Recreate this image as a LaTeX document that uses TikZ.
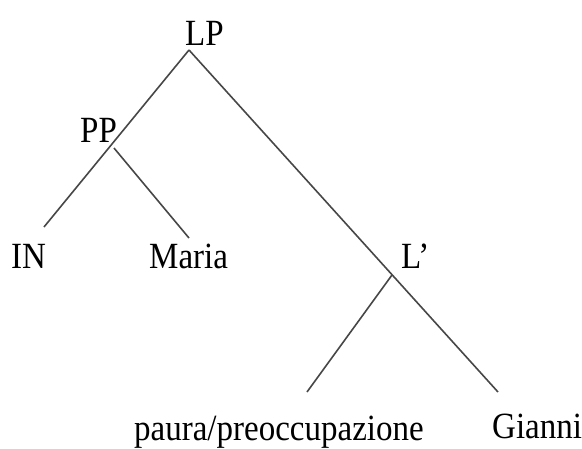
\documentclass[tikz,border=0pt]{standalone}
\usepackage{fontspec}
\setmainfont{Liberation Serif}
\newcommand{\tallt}[1]{\scalebox{1}[1.12]{#1}}
\begin{document}
\begin{tikzpicture}[x=1pt,y=-1pt,
  lbl/.style={anchor=base west,inner sep=0pt,font=\fontsize{33}{33}\selectfont},
  branch/.style={draw=black!72,line width=1.6pt}]
\useasboundingbox[fill=white] (0,0) rectangle (582,448);
% labels
\node[lbl] (LP) at (185,45) {\tallt{LP}};
\node[lbl] (PP) at (80,142) {\tallt{PP}};
\node[lbl] (IN) at (11,268) {\tallt{IN}};
\node[lbl] (Maria) at (149,268) {\tallt{Maria}};
\node[lbl] (Lb) at (401,268) {\tallt{L’}};
\node[lbl] (paura) at (134,440) {\tallt{paura/preoccupazione}};
\node[lbl] (Gianni) at (492,438) {\tallt{Gianni}};
% branch points
\coordinate (lpA) at (189,50);
\coordinate (inE) at (44,227);
\coordinate (ppA) at (114,148);
\coordinate (maE) at (189,238);
\coordinate (giE) at (498,392);
\coordinate (lbA) at (392,275);
\coordinate (paE) at (307,392);
% branches
\draw[branch] (lpA) -- (inE);
\draw[branch] (lpA) -- (giE);
\draw[branch] (ppA) -- (maE);
\draw[branch] (lbA) -- (paE);
\end{tikzpicture}
\end{document}
